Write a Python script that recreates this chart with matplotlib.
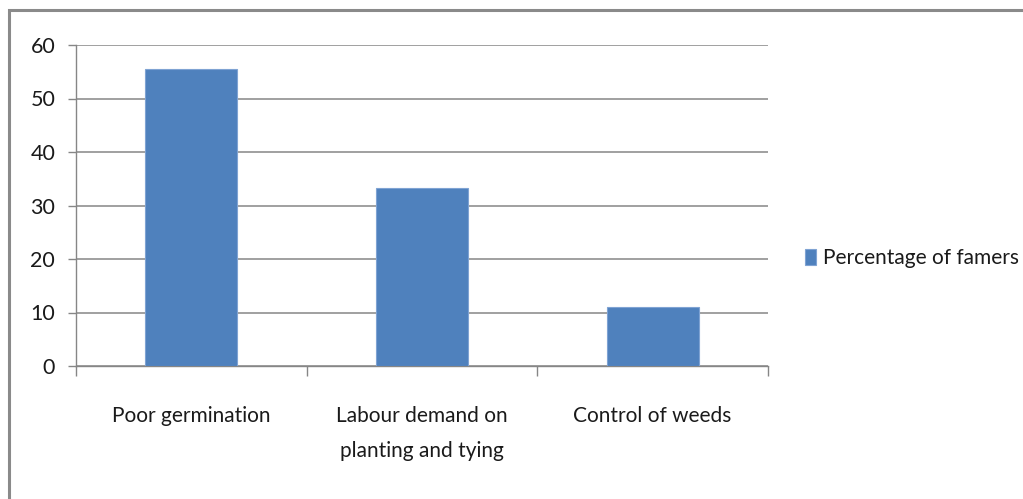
import matplotlib
matplotlib.use("Agg")
import matplotlib.pyplot as plt
from matplotlib import font_manager
from matplotlib.patches import Rectangle

# Data
categories = ["Poor germination", "Labour demand on\nplanting and tying", "Control of weeds"]
percentages = [55.6, 33.3, 11.1]
series_name = "Percentage of famers"
y_ticks = [0, 10, 20, 30, 40, 50, 60]

available = {f.name for f in font_manager.fontManager.ttflist}
family = next((f for f in ("Liberation Sans Narrow", "Lato", "Liberation Sans") if f in available),
              "DejaVu Sans")
plt.rcParams["font.family"] = [family, "DejaVu Sans"]

W, H = 1023, 499
fig = plt.figure(figsize=(W / 100, H / 100), dpi=100)
fig.patch.set_facecolor("white")

ax = fig.add_axes([76 / W, 1 - 366 / H, (768 - 76) / W, (366 - 45) / H])

grid_color = "#868686"
bar_color = "#4F81BD"
text_color = "#1a1a1a"
fs = 15

x = list(range(len(categories)))
ax.bar(x, percentages, width=0.4, color=bar_color, edgecolor="#7fa3d3",
       linewidth=0.8, label=series_name, zorder=3)

ax.set_xlim(-0.5, len(categories) - 0.5)
ax.set_ylim(0, 60)
ax.set_yticks(y_ticks)
ax.set_yticklabels([str(v) for v in y_ticks], fontsize=fs + 0.5, color=text_color)
ax.yaxis.grid(True, color=grid_color, linewidth=1.1, zorder=0)
ax.set_axisbelow(True)

ax.set_xticks(x)
ax.set_xticklabels(categories, fontsize=fs, color=text_color, linespacing=1.95)
ax.set_xticks([i - 0.5 for i in range(len(categories) + 1)], minor=True)
ax.tick_params(axis="x", which="major", length=0, pad=29)
ax.tick_params(axis="x", which="minor", length=7, width=1.0, color=grid_color, direction="out")
ax.tick_params(axis="y", length=6, width=1.0, color=grid_color, direction="out", pad=9)

for side in ("top", "right"):
    ax.spines[side].set_visible(False)
for side in ("left", "bottom"):
    ax.spines[side].set_color(grid_color)
    ax.spines[side].set_linewidth(1.0)

leg = fig.legend(loc="center left", bbox_to_anchor=(805 / W, 1 - 258 / H),
                 frameon=False, fontsize=fs, handlelength=0.55, handleheight=0.8,
                 handletextpad=0.3, borderaxespad=0, borderpad=0)
for t in leg.get_texts():
    t.set_color(text_color)

# Outer chart border
fig.add_artist(Rectangle((9 / W, -0.2), 1.2, 1.2 - 10 / H, transform=fig.transFigure,
                         fill=False, edgecolor="#8a8a8a", linewidth=2.2, clip_on=False))

fig.savefig("out.png", dpi=100, facecolor="white")
